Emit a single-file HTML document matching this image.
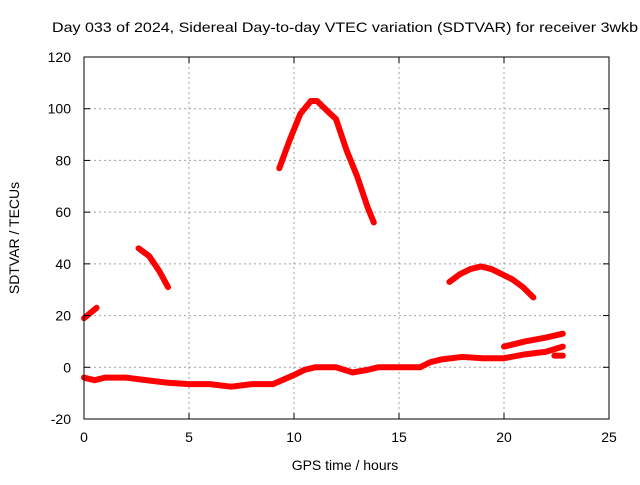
<!DOCTYPE html>
<html><head><meta charset="utf-8"><style>
body{margin:0;background:#fff}
svg text{font-family:"Liberation Sans",sans-serif;font-size:14px;fill:#000}
</style></head><body>
<svg id="c" width="640" height="480" xmlns="http://www.w3.org/2000/svg">
<text x="52" y="32" textLength="586" lengthAdjust="spacingAndGlyphs">Day 033 of 2024, Sidereal Day-to-day VTEC variation (SDTVAR) for receiver 3wkb</text>
<text x="345" y="470" text-anchor="middle">GPS time / hours</text>
<text transform="translate(19,238) rotate(-90)" text-anchor="middle">SDTVAR / TECUs</text>
<g id="grid"></g><g id="series"></g>
<rect x="84" y="57" width="525" height="362" fill="none" stroke="#000" stroke-width="1"/>
<g id="ticks"></g>
</svg>
<script>
const xTicks=[0,5,10,15,20,25];
const yTicks=[-20,0,20,40,60,80,100,120];
const seg1=[[0,19],[0.6,23]];
const seg2=[[2.6,46],[3.1,43],[3.6,37],[4.0,31]];
const seg3=[[9.3,77],[9.8,88],[10.3,98],[10.8,103],[11.1,103],[11.6,99],[12.0,96],[12.5,84],[13.0,74],[13.5,62],[13.8,56]];
const seg4=[[17.4,33],[17.9,36],[18.4,38],[18.9,39],[19.4,38],[19.9,36],[20.4,34],[20.9,31],[21.4,27]];
const seg5=[[0,-4],[0.5,-5],[1,-4],[2,-4],[3,-5],[4,-6],[5,-6.5],[6,-6.5],[7,-7.5],[8,-6.5],[9,-6.5],[10,-3],[10.5,-1],[11,0],[12,0],[12.8,-2],[13.5,-1],[14,0],[15,0],[16,0],[16.5,2],[17,3],[18,4],[19,3.5],[20,3.5],[21,5],[22,6],[22.8,8]];
const seg6=[[20,8],[21,10],[22,11.5],[22.8,13]];
const seg7=[[22.4,4.5],[22.8,4.5]];
const segments=[seg1,seg2,seg3,seg4,seg5,seg6,seg7];
const X=v=>84+v*(525/25), Y=v=>419-(v+20)*(362/140);
const NS="http://www.w3.org/2000/svg";
const grid=document.getElementById('grid'),ticks=document.getElementById('ticks'),ser=document.getElementById('series');
function mk(p,tag,a){const e=document.createElementNS(NS,tag);for(const k in a)e.setAttribute(k,a[k]);p.appendChild(e);return e;}
xTicks.forEach(t=>{const x=X(t);
 if(t>0&&t<25){const g=mk(grid,'line',{x1:x,x2:x,y1:57,y2:419,stroke:'#a0a0a0','stroke-dasharray':'2,3'});
 
 }
 mk(ticks,'line',{x1:x,x2:x,y1:419,y2:413,stroke:'#000'});mk(ticks,'line',{x1:x,x2:x,y1:57,y2:63,stroke:'#000'});
 const tx=mk(ticks,'text',{x:x,y:442,'text-anchor':'middle'});tx.textContent=t;
 
 });
yTicks.forEach(t=>{const y=Y(t);
 if(t>-20&&t<120){const g=mk(grid,'line',{x1:84,x2:609,y1:y,y2:y,stroke:'#a0a0a0','stroke-dasharray':'2,3'});
 
 }
 mk(ticks,'line',{x1:84,x2:90,y1:y,y2:y,stroke:'#000'});mk(ticks,'line',{x1:603,x2:609,y1:y,y2:y,stroke:'#000'});
 const tx=mk(ticks,'text',{x:71,y:y+5,'text-anchor':'end'});tx.textContent=t;
 
 });
segments.forEach(s=>{const p=mk(ser,'polyline',{points:s.map(d=>X(d[0])+','+Y(d[1])).join(' '),fill:'none',stroke:'#f00','stroke-width':6,'stroke-linejoin':'round','stroke-linecap':'round'});
 
 });
</script>
</body></html>
